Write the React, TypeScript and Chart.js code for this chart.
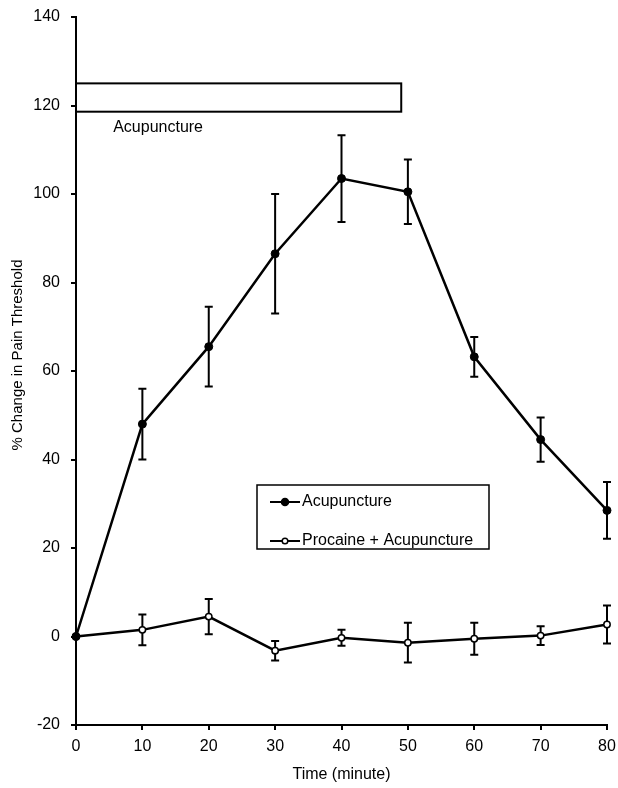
import { useEffect, useRef } from "react";
import { Chart, registerables } from "chart.js";

Chart.register(...registerables);

// ---- Data ----
const times = [0, 10, 20, 30, 40, 50, 60, 70, 80];
const acuMean = [0, 48, 65.5, 86.5, 103.5, 100.5, 63.2, 44.5, 28.5];
const acuErr = [0, 8, 9, 13.5, 9.8, 7.3, 4.5, 5, 6.4];
const procMean = [0, 1.5, 4.5, -3.2, -0.3, -1.4, -0.5, 0.2, 2.7];
const procErr = [0, 3.5, 4, 2.2, 1.8, 4.5, 3.6, 2.1, 4.3];
const seriesNames = ["Acupuncture", "Procaine + Acupuncture"];
const yMin = -20;
const yMax = 140;
const yStep = 20;
const xMin = 0;
const xMax = 80;
const xStep = 10;
const periodStart = 0;
const periodEnd = 49;
const periodLow = 118.6;
const periodHigh = 125;
const periodLabel = "Acupuncture";
const periodLabelX = 5.6;
const periodLabelY = 115;
const xTitle = "Time (minute)";
const yTitle = "% Change in Pain Threshold";

const FONT = "'Liberation Sans', Arial, sans-serif";
const FS = 16;

export default function App() {
  const ref = useRef<HTMLCanvasElement | null>(null);

  useEffect(() => {
    document.body.style.margin = "0";
    const canvas = ref.current;
    if (!canvas) return;

    const errorBars = {
      id: "errorBars",
      beforeDatasetsDraw(chart: any) {
        const { ctx } = chart;
        const x = chart.scales.x;
        const y = chart.scales.y;
        ctx.save();
        ctx.strokeStyle = "#000";
        ctx.lineWidth = 2;
        const sets: [number[], number[]][] = [
          [acuMean, acuErr],
          [procMean, procErr],
        ];
        sets.forEach(([m, e]) => {
          times.forEach((t, i) => {
            if (!e[i]) return;
            const px = x.getPixelForValue(t);
            const top = y.getPixelForValue(m[i] + e[i]);
            const bot = y.getPixelForValue(m[i] - e[i]);
            ctx.beginPath();
            ctx.moveTo(px, top);
            ctx.lineTo(px, bot);
            ctx.moveTo(px - 4, top);
            ctx.lineTo(px + 4, top);
            ctx.moveTo(px - 4, bot);
            ctx.lineTo(px + 4, bot);
            ctx.stroke();
          });
        });
        ctx.restore();
      },
    };

    const overlay = {
      id: "overlay",
      afterDraw(chart: any) {
        const { ctx } = chart;
        const x = chart.scales.x;
        const y = chart.scales.y;
        ctx.save();
        // period box
        const bx0 = x.getPixelForValue(periodStart);
        const bx1 = x.getPixelForValue(periodEnd);
        const by0 = y.getPixelForValue(periodHigh);
        const by1 = y.getPixelForValue(periodLow);
        ctx.fillStyle = "#fff";
        ctx.fillRect(bx0, by0, bx1 - bx0, by1 - by0);
        ctx.strokeStyle = "#000";
        ctx.lineWidth = 2;
        ctx.strokeRect(bx0, by0, bx1 - bx0, by1 - by0);
        ctx.fillStyle = "#000";
        ctx.font = `${FS}px ${FONT}`;
        ctx.textAlign = "left";
        ctx.textBaseline = "middle";
        ctx.fillText(periodLabel, x.getPixelForValue(periodLabelX), y.getPixelForValue(periodLabelY));

        // legend
        const lx = 257, ly = 485, lw = 232, lh = 64;
        ctx.fillStyle = "#fff";
        ctx.fillRect(lx, ly, lw, lh);
        ctx.lineWidth = 1.5;
        ctx.strokeRect(lx, ly, lw, lh);
        const rows = [ly + 17, ly + 56];
        rows.forEach((ry, i) => {
          ctx.strokeStyle = "#000";
          ctx.lineWidth = 2;
          ctx.beginPath();
          ctx.moveTo(270, ry);
          ctx.lineTo(300, ry);
          ctx.stroke();
          ctx.beginPath();
          ctx.arc(285, ry, i === 0 ? 3.5 : 2.8, 0, Math.PI * 2);
          ctx.fillStyle = i === 0 ? "#000" : "#fff";
          ctx.fill();
          ctx.lineWidth = 1.5;
          ctx.stroke();
          ctx.fillStyle = "#000";
          ctx.textAlign = "left";
          ctx.textBaseline = "middle";
          ctx.fillText(seriesNames[i], 302, ry);
        });

        // axis titles
        ctx.textAlign = "center";
        ctx.textBaseline = "middle";
        ctx.fillText(xTitle, (chart.chartArea.left + chart.chartArea.right) / 2, 775);
        ctx.font = `15px ${FONT}`;
        ctx.translate(18, 355);
        ctx.rotate(-Math.PI / 2);
        ctx.fillText(yTitle, 0, 0);
        ctx.restore();
      },
    };

    const chart = new Chart(canvas, {
      type: "line",
      data: {
        datasets: [
          {
            label: seriesNames[0],
            data: times.map((t, i) => ({ x: t, y: acuMean[i] })),
            borderColor: "#000",
            borderWidth: 2.5,
            backgroundColor: "#000",
            pointBackgroundColor: "#000",
            pointBorderColor: "#000",
            pointRadius: 4,
            pointBorderWidth: 1,
            tension: 0,
            clip: false,
          },
          {
            label: seriesNames[1],
            data: times.map((t, i) => ({ x: t, y: procMean[i] })),
            borderColor: "#000",
            borderWidth: 2.5,
            backgroundColor: "#fff",
            pointBackgroundColor: "#fff",
            pointBorderColor: "#000",
            pointRadius: 3.2,
            pointBorderWidth: 1.5,
            tension: 0,
            clip: false,
          },
        ],
      },
      options: {
        responsive: false,
        animation: false,
        layout: { padding: { top: 17, right: 11, left: 0, bottom: 0 } },
        plugins: {
          legend: { display: false },
          tooltip: { enabled: false },
        },
        scales: {
          x: {
            type: "linear",
            min: xMin,
            max: xMax,
            afterFit(scale: any) {
              scale.height = 63;
              scale.paddingLeft = 0;
              scale.paddingRight = 0;
            },
            ticks: {
              stepSize: xStep,
              color: "#000",
              font: { family: FONT, size: FS },
              padding: 7,
              maxRotation: 0,
            },
            grid: {
              drawOnChartArea: false,
              drawTicks: true,
              tickLength: 5,
              color: "#000",
              lineWidth: 2,
            },
            border: { display: true, color: "#000", width: 2 },
          },
          y: {
            type: "linear",
            min: yMin,
            max: yMax,
            afterFit(scale: any) {
              scale.width = 76;
              scale.paddingTop = 0;
              scale.paddingBottom = 0;
            },
            ticks: {
              stepSize: yStep,
              color: "#000",
              font: { family: FONT, size: FS },
              padding: 11,
            },
            grid: {
              drawOnChartArea: false,
              drawTicks: true,
              tickLength: 5,
              color: "#000",
              lineWidth: 2,
            },
            border: { display: true, color: "#000", width: 2 },
          },
        },
      },
      plugins: [errorBars, overlay],
    });

    return () => chart.destroy();
  }, []);

  return (
    <div style={{ width: 618, height: 788, overflow: "hidden", background: "#fff" }}>
      <canvas ref={ref} width={618} height={788} style={{ display: "block" }} />
    </div>
  );
}
